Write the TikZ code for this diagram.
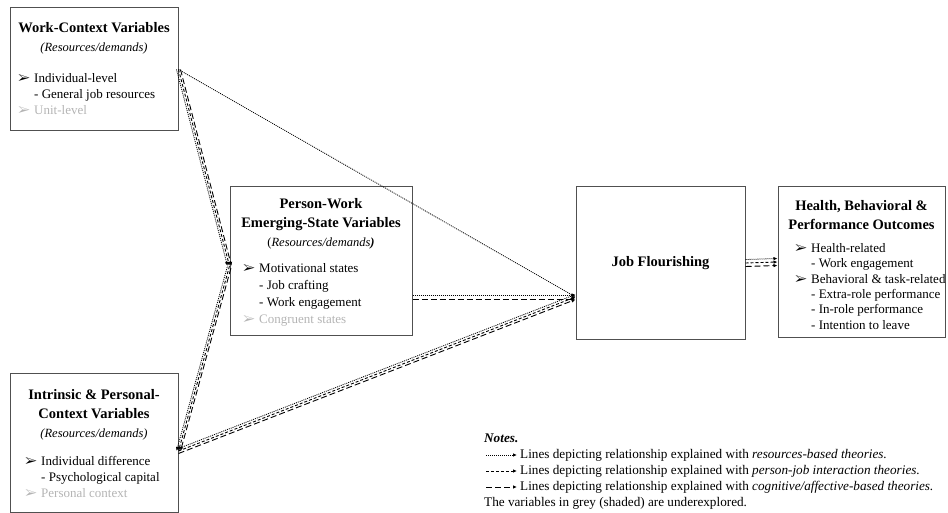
\documentclass[tikz,border=0pt]{standalone}
\usepackage{fontspec}
\setmainfont{Liberation Serif}
\usepackage{pifont}
\usetikzlibrary{arrows.meta}
\definecolor{boxline}{HTML}{505050}
\definecolor{underexp}{HTML}{B4B4B4}
\newcommand{\bl}{\makebox[16pt][l]{\ding{226}}}
\newcommand{\ind}{\hspace*{16pt}}
\newcommand{\subttl}[1]{{\normalfont\fontsize{12.5}{19}\selectfont #1}}
\tikzset{
  box/.style={draw=boxline, line width=1pt, inner sep=0pt},
  ttl/.style={font=\fontsize{14.5}{19}\selectfont\bfseries, align=center, inner sep=0pt},
  bul/.style={font=\fontsize{13}{16}\selectfont, align=left, anchor=north west, inner sep=0pt},
  tip/.style={-{Latex[length=4pt,width=3.5pt]}},
  res/.style={tip, line width=0.8pt, dash pattern=on 1pt off 1pt},
  pj/.style={tip, line width=0.9pt, dash pattern=on 3pt off 2pt},
  cog/.style={tip, line width=0.9pt, dash pattern=on 6pt off 3pt},
  note/.style={font=\fontsize{13.2}{16}\selectfont, anchor=west, inner sep=0pt},
}
\begin{document}
\begin{tikzpicture}[x=1pt,y=-1pt]
\useasboundingbox (0,0) rectangle (948,513);
% boxes
\node[box, minimum width=168, minimum height=123] (wc) at (94,69.5) {};
\node[box, minimum width=168, minimum height=139] (ip) at (94,442.5) {};
\node[box, minimum width=182, minimum height=148] (pw) at (321,261) {};
\node[box, minimum width=169, minimum height=152] (jf) at (660.5,263) {};
\node[box, minimum width=167, minimum height=150] (ho) at (861.5,262) {};
% work context
\node[ttl] (wcT) at (94,38) {Work-Context Variables\\\subttl{\itshape (Resources/demands)}};
\node[bul] (wcB) at (18,73) {\bl Individual-level\\ \ind- General job resources\\ \textcolor{underexp}{\bl Unit-level}};
% intrinsic and personal
\node[ttl] (ipT) at (94,414.5) {Intrinsic \& Personal-\\Context Variables\\\subttl{\itshape (Resources/demands)}};
\node[bul] (ipB) at (25,456) {\bl Individual difference\\ \ind- Psychological capital\\ \textcolor{underexp}{\bl Personal context}};
% person-work
\node[ttl] (pwT) at (321,224) {Person-Work\\Emerging-State Variables\\\subttl{(\textit{Resources/demands}\textbf{\textit{)}}}};
\node[bul, font=\fontsize{13}{17}\selectfont] (pwB) at (243,263) {\bl Motivational states\\ \ind- Job crafting\\ \ind- Work engagement\\ \textcolor{underexp}{\bl Congruent states}};
% job flourishing
\node[ttl] (jfT) at (jf) {Job Flourishing};
% outcomes
\node[ttl] (hoT) at (861.5,215) {Health, Behavioral \&\\Performance Outcomes};
\node[bul, font=\fontsize{13}{15.4}\selectfont] (hoB) at (795,243) {\bl Health-related\\ \ind- Work engagement\\ \bl Behavioral \& task-related\\ \ind- Extra-role performance\\ \ind- In-role performance\\ \ind- Intention to leave};
% connection points
\coordinate (pwIn) at ([yshift=-5pt]pw.west);
\coordinate (ipOut) at ([yshift=-8.5pt]ip.east);
\coordinate (jfIn) at ([yshift=-34pt]jf.west);
\coordinate (pwOut) at (pw.east |- jfIn);
% work context -> job flourishing / person-work
\draw[res] (wc.east) -- (jfIn);
\draw[res, transform canvas={xshift=-2pt}] (wc.east) -- (pwIn);
\draw[pj] (wc.east) -- (pwIn);
\draw[cog, transform canvas={xshift=2pt}] (wc.east) -- (pwIn);
% intrinsic -> person-work / job flourishing
\draw[res, {Latex[length=4pt,width=3.5pt]}-, transform canvas={xshift=-2pt}] (ipOut) -- (pwIn);
\draw[pj, {Latex[length=4pt,width=3.5pt]}-] (ipOut) -- (pwIn);
\draw[cog, {Latex[length=4pt,width=3.5pt]}-, transform canvas={xshift=2pt}] (ipOut) -- (pwIn);
\draw[res, transform canvas={yshift=2.5pt}] (ipOut) -- (jfIn);
\draw[pj] (ipOut) -- (jfIn);
\draw[cog, transform canvas={yshift=-2.5pt}] (ipOut) -- (jfIn);
% person-work -> job flourishing
\draw[res, transform canvas={yshift=2pt}] (pwOut) -- (jfIn);
\draw[cog, transform canvas={yshift=-2pt}] (pwOut) -- (jfIn);
% job flourishing -> outcomes
\draw[res, transform canvas={yshift=3.5pt}] (jf.east) -- (ho.west);
\draw[pj] (jf.east) -- (ho.west);
\draw[cog, transform canvas={yshift=-3.5pt}] (jf.east) -- (ho.west);
% notes
\node[note, font=\fontsize{13.2}{16}\selectfont\bfseries\itshape] (nT) at (484,438) {Notes.};
\coordinate (lg1a) at (486,455); \coordinate (lg1b) at (517,455);
\coordinate (lg2a) at (486,471); \coordinate (lg2b) at (517,471);
\coordinate (lg3a) at (486,487); \coordinate (lg3b) at (517,487);
\draw[res] (lg1a) -- (lg1b);
\draw[pj] (lg2a) -- (lg2b);
\draw[cog] (lg3a) -- (lg3b);
\node[note] (n1) at (520,455) {Lines depicting relationship explained with \textit{resources-based theories.}};
\node[note] (n2) at (520,471) {Lines depicting relationship explained with \textit{person-job interaction theories.}};
\node[note] (n3) at (520,487) {Lines depicting relationship explained with \textit{cognitive/affective-based theories.}};
\node[note] (n4) at (484,503) {The variables in grey (shaded) are underexplored.};
\end{tikzpicture}
\end{document}
